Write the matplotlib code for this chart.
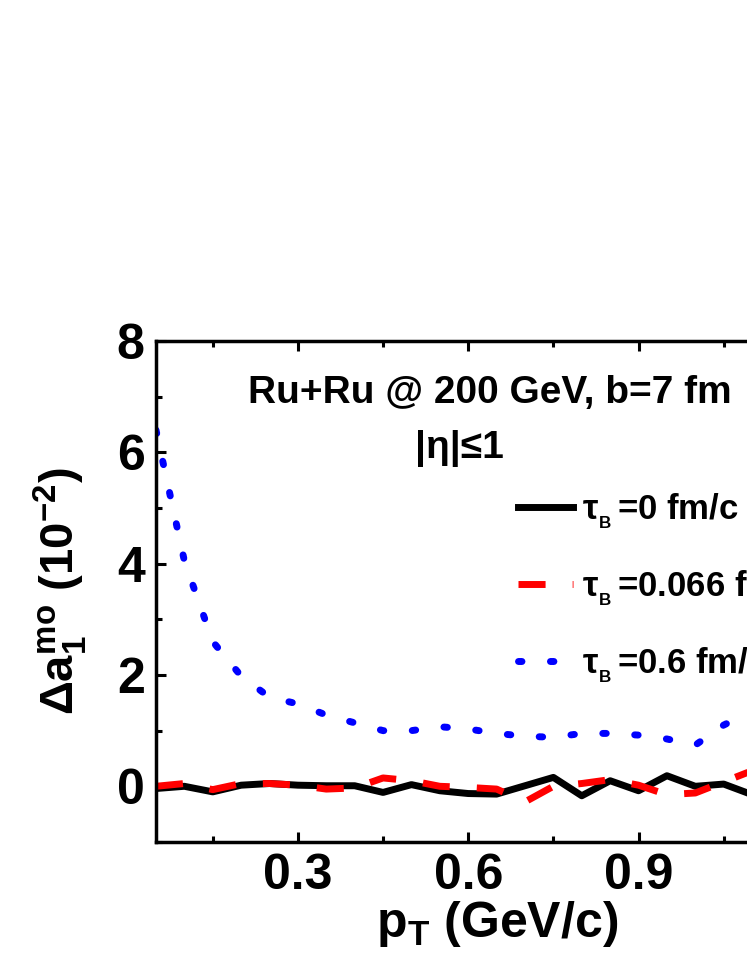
import numpy as np
import matplotlib
matplotlib.use("Agg")
import matplotlib.pyplot as plt
from matplotlib.ticker import MultipleLocator

plt.rcParams["font.family"] = ["Liberation Sans", "DejaVu Sans"]
plt.rcParams["font.weight"] = "bold"
plt.rcParams["axes.labelweight"] = "bold"
plt.rcParams["mathtext.fontset"] = "custom"
plt.rcParams["mathtext.rm"] = "Liberation Sans:bold"
plt.rcParams["mathtext.bf"] = "Liberation Sans:bold"
plt.rcParams["mathtext.it"] = "Liberation Sans:bold"
plt.rcParams["mathtext.default"] = "bf"

# pT grid (GeV/c)
pt = [0.05, 0.10, 0.15, 0.20, 0.25, 0.30, 0.35, 0.40, 0.45, 0.50, 0.55,
      0.60, 0.65, 0.70, 0.75, 0.80, 0.85, 0.90, 0.95, 1.00, 1.05, 1.10]

# Delta a1^mo in units of 1e-2
tau_0 = [-0.04, 0.00, -0.10, 0.02, 0.05, 0.02, 0.01, 0.01, -0.11, 0.03, -0.08,
         -0.13, -0.14, 0.01, 0.16, -0.17, 0.10, -0.08, 0.19, 0.00, 0.04, -0.15]
tau_0066 = [0.00, 0.05, -0.06, 0.05, 0.05, 0.02, -0.05, -0.03, 0.15, 0.10, 0.00,
            -0.02, -0.05, -0.28, 0.00, 0.05, 0.12, 0.02, -0.15, -0.12, 0.08, 0.28]
tau_06 = [6.40, 4.05, 2.60, 1.98, 1.60, 1.48, 1.28, 1.14, 1.00, 1.00, 1.07,
          1.03, 0.95, 0.90, 0.88, 0.95, 0.95, 0.92, 0.85, 0.74, 1.10, 1.35]

labels = ["τ$_{_B}\\,$=0 fm/c", "τ$_{_B}\\,$=0.066 fm/c", "τ$_{_B}\\,$=0.6 fm/c"]

fig = plt.figure(figsize=(7.47, 9.67), dpi=100)
ax = fig.add_axes([0.2088, 0.1293, 0.912, 0.5181])

ax.plot(pt, tau_0, color="black", lw=5, label=labels[0])
ax.plot(pt, tau_0066, color="red", lw=5, dashes=(3.9, 3.9), label=labels[1])
ax.plot(pt, tau_06, color="blue", lw=5, dashes=(0.5, 4.1),
        dash_capstyle="round", label=labels[2])

ax.set_xlim(0.05, 1.25)
ax.set_ylim(-1, 8)
ax.xaxis.set_major_locator(MultipleLocator(0.3))
ax.xaxis.set_minor_locator(MultipleLocator(0.15))
ax.yaxis.set_major_locator(MultipleLocator(2))
ax.yaxis.set_minor_locator(MultipleLocator(1))
ax.tick_params(which="both", direction="in", top=True, right=True, width=2.2,
               labelsize=36, pad=8)
ax.tick_params(which="major", length=7)
ax.tick_params(which="minor", length=4.5)
for s in ax.spines.values():
    s.set_linewidth(2.5)

ax.set_xlabel("p$_{T}$ (GeV/c)", fontsize=36, labelpad=0)
ax.set_ylabel("$\\Delta a_{1}^{mo}$ (10$^{-2}$)", fontsize=34, labelpad=20)

ax.text(0.49, 0.896, "Ru+Ru @ 200 GeV, b=7 fm", transform=ax.transAxes,
        ha="center", va="center", fontsize=28)
ax.text(0.446, 0.785, "|η|≤1", transform=ax.transAxes,
        ha="center", va="center", fontsize=28)

ax.legend(loc="upper left", bbox_to_anchor=(0.5316, 0.70), frameon=False,
          fontsize=25, borderpad=0, borderaxespad=0, handlelength=1.58,
          handletextpad=0.26, labelspacing=1.08)

fig.savefig("out.png", dpi=100)
